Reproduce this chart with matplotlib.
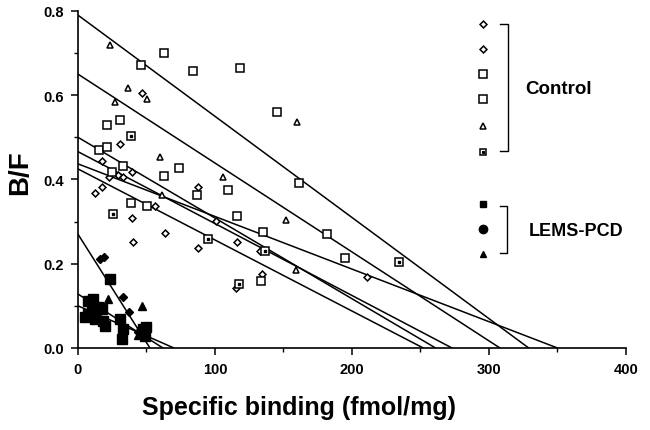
import numpy as np
import matplotlib
matplotlib.use('Agg')
import matplotlib.pyplot as plt
from matplotlib.ticker import MultipleLocator

plt.rcParams['font.family'] = ['Liberation Sans', 'DejaVu Sans']
plt.rcParams['font.weight'] = 'bold'

# Control data (open markers)
dia1_x = [46.5, 31, 17.8, 39.6, 29, 22.8, 33, 17.3, 12.4, 87.8, 56]
dia1_y = [0.606, 0.485, 0.445, 0.417, 0.41, 0.407, 0.405, 0.382, 0.367, 0.382, 0.338]
dia2_x = [39.6, 63.5, 101, 116, 40, 87.4, 133, 134, 115, 210.7]
dia2_y = [0.308, 0.273, 0.302, 0.251, 0.251, 0.237, 0.23, 0.176, 0.142, 0.168]
sq1_x = [63, 46, 84, 118, 31, 21.4, 145, 15.3, 21, 33, 24.6]
sq1_y = [0.701, 0.671, 0.658, 0.664, 0.542, 0.530, 0.56, 0.47, 0.477, 0.433, 0.417]
sq2_x = [63, 73.7, 109.7, 87, 38.7, 50.6, 116, 161.5, 135, 182, 133.6, 195]
sq2_y = [0.409, 0.427, 0.376, 0.363, 0.344, 0.337, 0.313, 0.392, 0.275, 0.271, 0.16, 0.214]
tri_x = [23, 36.5, 50.4, 27, 60, 106, 159.6, 61.5, 152, 159]
tri_y = [0.72, 0.618, 0.592, 0.585, 0.453, 0.407, 0.536, 0.363, 0.304, 0.186]
dsq_x = [39, 25.3, 95, 136.5, 117.5, 234]
dsq_y = [0.504, 0.317, 0.259, 0.231, 0.152, 0.204]

# LEMS-PCD data (filled markers)
lsm_x = [16, 19.2, 32.6, 37, 44]
lsm_y = [0.211, 0.217, 0.12, 0.085, 0.037]
lbig_x = [23.4, 7.5, 11.2, 10, 7.5, 5, 14.8, 17.3, 12.4, 18.5, 19.7, 30.7, 33, 32, 47.7, 50, 49, 46.5]
lbig_y = [0.164, 0.112, 0.116, 0.097, 0.081, 0.073, 0.097, 0.093, 0.069, 0.065, 0.053, 0.069, 0.045, 0.021, 0.045, 0.049, 0.029, 0.037]
ltri_x = [22, 47, 44]
ltri_y = [0.116, 0.099, 0.03]

# Scatchard fits: y-intercept (B/F) and x-intercept (Bmax)
ctrl_b = [0.79, 0.65, 0.50, 0.466, 0.437, 0.425]
ctrl_bmax = [329, 308, 261, 273, 350, 252]
lems_b = [0.27, 0.128, 0.10]
lems_bmax = [52.5, 62, 70]

fig = plt.figure(figsize=(6.5, 4.31), dpi=100)
ax = fig.add_axes([0.12, 0.1903, 0.843, 0.782])

for b, bm in zip(ctrl_b + lems_b, ctrl_bmax + lems_bmax):
    ax.plot([0, bm], [b, 0], color='black', lw=1.1, zorder=2)

op = dict(ls='none', mfc='white', mec='black', mew=1.1, zorder=3)
ax.plot(dia1_x, dia1_y, marker='D', ms=3.5, **op)
ax.plot(dia2_x, dia2_y, marker='D', ms=3.5, **op)
ax.plot(sq1_x, sq1_y, marker='s', ms=6, **op)
ax.plot(sq2_x, sq2_y, marker='s', ms=6, **op)
ax.plot(tri_x, tri_y, marker='^', ms=5, **op)
ax.plot(dsq_x, dsq_y, marker='s', ms=5.5, **op)
ax.plot(dsq_x, dsq_y, ls='none', marker='s', ms=1.5, color='black', zorder=4)

fp = dict(ls='none', color='black', zorder=3)
ax.plot(lsm_x, lsm_y, marker='D', ms=4.5, **fp)
ax.plot(lbig_x, lbig_y, marker='s', ms=7.5, **fp)
ax.plot(ltri_x, ltri_y, marker='^', ms=5.5, **fp)

# legend drawn by hand
t = ax.transAxes
lx = 0.739
ctrl_ly = [0.961, 0.887, 0.812, 0.738, 0.659, 0.582]
ctrl_mk = [('D', 3.5), ('D', 3.5), ('s', 5.5), ('s', 5.5), ('^', 4.5), ('s', 5)]
for yy, (m, s) in zip(ctrl_ly, ctrl_mk):
    ax.plot([lx], [yy], marker=m, ms=s, transform=t, clip_on=False, **op)
ax.plot([lx], [ctrl_ly[-1]], marker='s', ms=1.3, color='black', transform=t, clip_on=False, zorder=4)
lems_ly = [0.427, 0.353, 0.279]
lems_mk = [('s', 4.5), ('o', 6), ('^', 5)]
for yy, (m, s) in zip(lems_ly, lems_mk):
    ax.plot([lx], [yy], marker=m, ms=s, transform=t, clip_on=False, **fp)

ax.plot([0.77, 0.785, 0.785, 0.77], [0.961, 0.961, 0.585, 0.585], color='black', lw=1.0, transform=t, clip_on=False)
ax.plot([0.77, 0.783, 0.783, 0.77], [0.421, 0.421, 0.282, 0.282], color='black', lw=1.0, transform=t, clip_on=False)
ax.text(0.816, 0.769, 'Control', transform=t, fontsize=13.5, fontweight='bold', va='center', ha='left')
ax.text(0.822, 0.35, 'LEMS-PCD', transform=t, fontsize=13, fontweight='bold', va='center', ha='left')

ax.set_xlim(0, 400)
ax.set_ylim(0, 0.8)
ax.spines['top'].set_visible(False)
ax.spines['right'].set_visible(False)
ax.spines['left'].set_linewidth(1.2)
ax.spines['bottom'].set_linewidth(1.2)
ax.xaxis.set_major_locator(MultipleLocator(100))
ax.xaxis.set_minor_locator(MultipleLocator(50))
ax.yaxis.set_major_locator(MultipleLocator(0.2))
ax.yaxis.set_minor_locator(MultipleLocator(0.1))
ax.set_yticks([0, 0.2, 0.4, 0.6, 0.8])
ax.set_yticklabels(['0.0', '0.2', '0.4', '0.6', '0.8'])
ax.tick_params(which='major', direction='out', length=5, width=1.1, labelsize=10.5, pad=5)
ax.tick_params(which='minor', direction='out', length=3, width=1.0)
for lab in ax.get_xticklabels() + ax.get_yticklabels():
    lab.set_fontweight('bold')

fig.text(0.031, 0.599, 'B/F', rotation=90, fontsize=20, fontweight='bold', ha='center', va='center')
fig.text(0.46, 0.053, 'Specific binding (fmol/mg)', fontsize=18, fontweight='bold', ha='center', va='center')

fig.savefig('out.png', dpi=100)
